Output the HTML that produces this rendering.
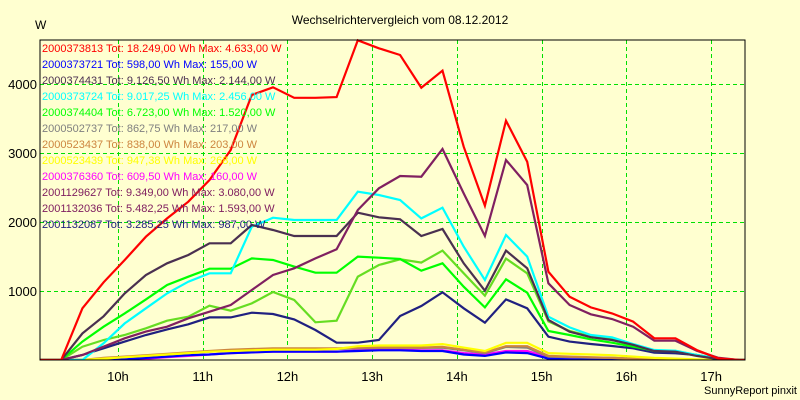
<!DOCTYPE html>
<html><head><meta charset="utf-8"><style>
html,body{margin:0;padding:0;background:#ffffd0;}
svg{display:block;font-family:"Liberation Sans",Arial,sans-serif;}
</style></head><body>
<svg id="chart" width="800" height="400" viewBox="0 0 800 400">
<rect x="0" y="0" width="800" height="400" fill="#ffffd0"/>
<text x="400" y="24" font-size="12" text-anchor="middle" fill="#000">Wechselrichtervergleich vom 08.12.2012</text>
<text x="35" y="29" font-size="12" fill="#000">W</text>
<text x="797" y="394" font-size="11" text-anchor="end" fill="#000">SunnyReport pinxit</text>
<g id="grid"></g>
<g id="series"></g>
<g id="legend"></g>
<rect x="40" y="40" width="705" height="320" fill="none" stroke="#000" stroke-width="1"/>
<g id="axes"></g>
</svg>
<script>
const yTicks=[1000,2000,3000,4000];
const xTicks=[10,11,12,13,14,15,16,17];
const xTickLabels=["10h","11h","12h","13h","14h","15h","16h","17h"];
const startHour=9.33, stepHour=0.25;
const names=["2000373813","2000373721","2000374431","2000373724","2000374404","2000502737","2000523437","2000523439","2000376360","2001129627","2001132036","2001132087"];
const totals=["18.249,00","598,00","9.126,50","9.017,25","6.723,00","862,75","838,00","947,38","609,50","9.349,00","5.482,25","3.285,25"];
const maxima=["4.633,00","155,00","2.144,00","2.456,00","1.520,00","217,00","203,00","268,00","160,00","3.080,00","1.593,00","987,00"];
const textColors=["#ff0000","#0000ff","#4a3050","#00ffff","#00ff00","#808080","#cd853f","#ffff00","#ff00ff","#802060","#802060","#202080"];
const lineColors=["#ff0000","#0000ff","#4a3050","#00ffff","#00ff00","#808080","#cd853f","#ffff00","#ff00ff","#802060","#66dd22","#202080"];
const s0=[0,749,1126,1449,1787,2053,2295,2609,3043,3841,3952,3800,3800,3810,4633,4517,4420,3947,4193,3092,2237,3469,2874,1280,918,763,676,556,314,314,145,25,0];
const s1=[0,0,0,10,30,50,70,80,100,110,120,120,120,120,130,140,140,130,130,80,60,110,100,20,10,5,0,0,0,0,0,0,0];
const s2=[0,386,633,966,1232,1401,1522,1691,1691,1957,1884,1797,1797,1797,2135,2068,2039,1797,1899,1401,1005,1585,1329,580,410,330,290,220,130,120,60,15,0];
const s3=[0,0,242,531,749,966,1135,1256,1256,1932,2063,2029,2029,2029,2440,2391,2319,2053,2208,1643,1159,1812,1498,628,473,362,329,232,145,135,72,25,0];
const s4=[0,266,483,676,879,1087,1208,1324,1324,1473,1449,1353,1266,1266,1498,1483,1464,1295,1401,1063,763,1169,976,420,362,300,251,193,135,120,72,20,0];
const s5=[0,0,20,40,60,80,100,120,140,150,160,160,160,160,170,175,180,175,180,140,100,190,180,50,40,35,30,20,10,5,0,0,0];
const s6=[0,0,30,50,70,90,110,130,150,160,170,170,170,170,180,180,180,180,190,150,110,200,200,60,50,40,30,20,10,5,0,0,0];
const s7=[0,0,20,40,60,80,100,120,130,140,150,150,150,160,200,210,210,210,230,180,130,250,250,100,90,80,70,50,30,20,10,0,0];
const s8=[0,0,0,10,20,40,60,80,100,110,120,120,120,120,140,150,150,140,140,100,80,130,130,40,30,20,15,10,5,0,0,0,0];
const s9=[0,72,193,314,411,483,604,700,797,1014,1232,1329,1473,1604,2174,2488,2667,2657,3058,2415,1797,2899,2536,1111,797,662,594,483,280,280,135,34,0];
const s10=[0,193,290,362,459,570,628,787,715,821,985,870,546,570,1208,1377,1459,1411,1585,1256,932,1469,1256,560,420,340,300,210,130,130,70,20,0];
const s11=[0,72,169,266,362,444,517,618,618,686,667,589,435,251,251,290,638,783,981,749,541,879,749,338,266,232,203,169,106,97,72,15,0];
const seriesValues=[s0,s1,s2,s3,s4,s5,s6,s7,s8,s9,s10,s11];
const drawOrder=[8,1,5,6,7,11,10,4,3,2,9,0];

const L=40,R=745,T=40,B=360;
const H0=9.08,H1=17.40,V1=4638;
function xScale(h){return L+(h-H0)/(H1-H0)*(R-L);}
function yScale(v){return B-v/V1*(B-T);}
const NS="http://www.w3.org/2000/svg";
function mk(tag,attrs){const e=document.createElementNS(NS,tag);for(const k in attrs)e.setAttribute(k,attrs[k]);return e;}

const grid=document.getElementById('grid');
yTicks.forEach(v=>{
  const y=Math.round(yScale(v))+0.5;
  const g=mk('line',{x1:L,x2:R,y1:y,y2:y,stroke:'#00e000','stroke-dasharray':'4,3','stroke-width':1});
  
  
  grid.appendChild(g);
});
xTicks.forEach(h=>{
  const x=Math.round(xScale(h))+0.5;
  const g=mk('line',{x1:x,x2:x,y1:T,y2:B,stroke:'#00e000','stroke-dasharray':'4,3','stroke-width':1});
  
  
  grid.appendChild(g);
});
const axes=document.getElementById('axes');
yTicks.forEach(v=>{
  const t=mk('text',{x:37,y:yScale(v)+5,'font-size':13,'text-anchor':'end',fill:'#000'});
  t.textContent=String(v);
  
  
  axes.appendChild(t);
});
xTicks.forEach((h,i)=>{
  const t=mk('text',{x:xScale(h),y:381,'font-size':13,'text-anchor':'middle',fill:'#000'});
  t.textContent=xTickLabels[i];
  
  
  axes.appendChild(t);
});

const sg=document.getElementById('series');
const clip=mk('clipPath',{id:'pc'});clip.appendChild(mk('rect',{x:L,y:T-2,width:R-L,height:B-T+2}));
document.getElementById('chart').appendChild(clip);
sg.setAttribute('clip-path','url(#pc)');
drawOrder.forEach(i=>{
  const vals=seriesValues[i];
  const pts=[[xScale(H0),yScale(0)]];
  vals.forEach((v,k)=>pts.push([xScale(startHour+k*stepHour),yScale(v)]));
  pts.push([xScale(H1),yScale(0)]);
  const p=mk('polyline',{points:pts.map(p=>p[0].toFixed(1)+','+p[1].toFixed(1)).join(' '),fill:'none',stroke:lineColors[i],'stroke-width':2.2,'stroke-linejoin':'miter'});
  
  
  sg.appendChild(p);
});

const lg=document.getElementById('legend');
names.forEach((n,i)=>{
  const t=mk('text',{x:42,y:52+16*i,'font-size':11,fill:textColors[i]});
  t.textContent=n+' Tot: '+totals[i]+' Wh Max: '+maxima[i]+' W';
  
  
  lg.appendChild(t);
});
</script>
</body></html>
